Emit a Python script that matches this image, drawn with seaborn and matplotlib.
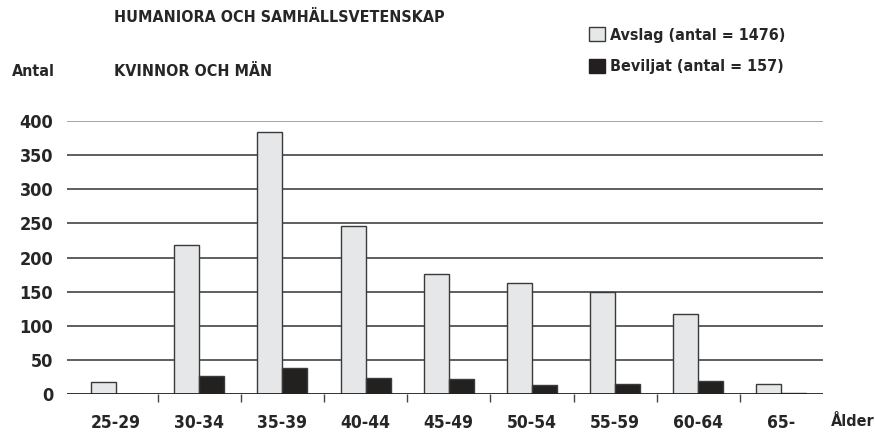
import numpy as np
import pandas as pd
import matplotlib
matplotlib.use('Agg')
import matplotlib.pyplot as plt
import seaborn as sns
from matplotlib.patches import Patch

# data
age_groups = ['25-29', '30-34', '35-39', '40-44', '45-49', '50-54', '55-59', '60-64', '65-']
avslag = [18, 218, 384, 246, 176, 163, 150, 117, 15]
beviljat = [0, 27, 39, 24, 23, 13, 15, 19, 2]
series_names = ['Avslag (antal = 1476)', 'Beviljat (antal = 157)']
y_ticks = [0, 50, 100, 150, 200, 250, 300, 350, 400]

df = pd.DataFrame({
    'Ålder': age_groups * 2,
    'Antal': avslag + beviljat,
    'Grupp': [series_names[0]] * len(age_groups) + [series_names[1]] * len(age_groups),
})

sns.set_theme(style='white')
plt.rcParams['font.family'] = ['DejaVu Sans']
plt.rcParams['font.stretch'] = 'condensed'
plt.rcParams['font.weight'] = 'bold'

light = '#e6e7e8'
dark = '#231f20'

fig = plt.figure(figsize=(8.75, 4.41), dpi=100)
ax = fig.add_axes([0.0766, 0.1059, 0.864, 0.6197])

sns.barplot(data=df, x='Ålder', y='Antal', hue='Grupp', palette=[light, dark],
            width=0.6, ax=ax, legend=False, edgecolor='#3a3a3a', linewidth=1)

ax.set_ylim(0, 400)
ax.set_xlim(-0.59, 8.5)
ax.set_yticks(y_ticks)
ax.set_yticklabels([str(t) for t in y_ticks], fontsize=13)
ax.set_xticks(range(len(age_groups)))
ax.set_xticklabels(age_groups, fontsize=12.5)
ax.set_xticks(np.arange(0.5, len(age_groups) - 0.5), minor=True)
ax.tick_params(axis='x', which='major', length=0, pad=14)
ax.tick_params(axis='x', which='minor', length=6, width=1, color='#444444', direction='out', bottom=True)
ax.tick_params(axis='y', length=0, pad=10)
ax.set_xlabel('')
ax.set_ylabel('')

for t in y_ticks[1:]:
    ax.axhline(t, color='#8a8a8a' if t == 400 else '#333333', lw=1.1, zorder=0)
ax.axhline(0, color='#222222', lw=1.3, zorder=3)
for s in ax.spines.values():
    s.set_visible(False)

fig.text(114 / 875, 1 - 17 / 441, 'HUMANIORA OCH SAMHÄLLSVETENSKAP', fontsize=11.5, va='center')
fig.text(114 / 875, 1 - 71 / 441, 'KVINNOR OCH MÄN', fontsize=11.5, va='center')
fig.text(12 / 875, 1 - 72 / 441, 'Antal', fontsize=11.5, va='center')
fig.text(831 / 875, 1 - 421 / 441, 'Ålder', fontsize=11.5, va='center')

handles = [Patch(facecolor=light, edgecolor='#3a3a3a', lw=1),
           Patch(facecolor=dark, edgecolor=dark, lw=1)]
fig.legend(handles, series_names, loc='upper left', bbox_to_anchor=(589 / 875, 1 - 27 / 441),
           frameon=False, fontsize=11.5, handlelength=1.0, handleheight=1.0,
           handletextpad=0.3, labelspacing=1.0, borderpad=0, borderaxespad=0)

fig.savefig('out.png', dpi=100)
